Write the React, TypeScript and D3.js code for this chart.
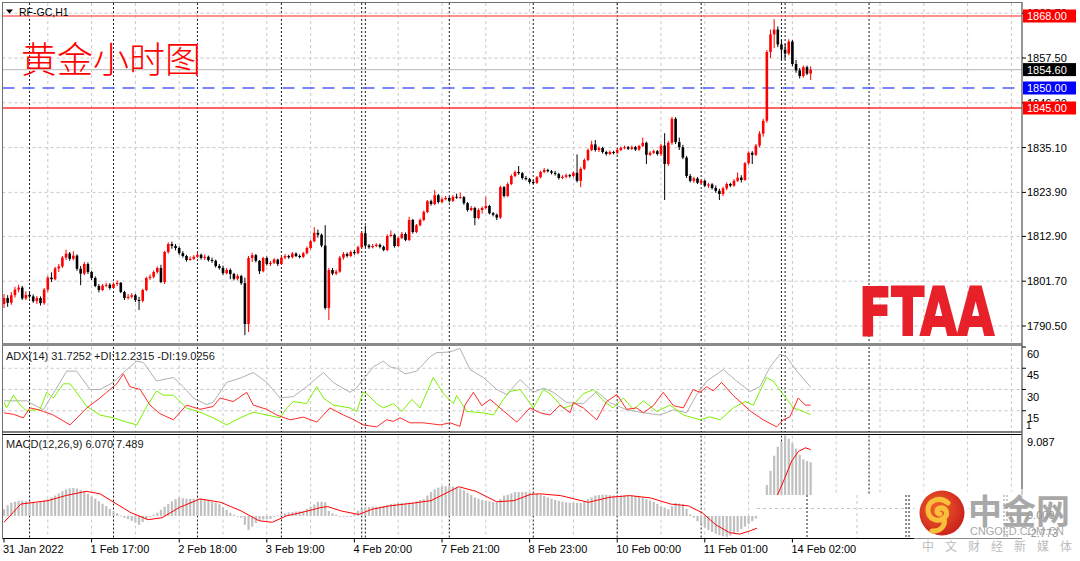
import React, { useEffect } from 'react';
import * as d3 from 'd3';

// ---------------- DATA ----------------
// Hourly candles [open, high, low, close]
const candles: [number, number, number, number][] = [
  [1796.0,1798.5,1795.0,1797.5],[1797.5,1798.2,1795.3,1796.3],[1796.3,1799.0,1795.8,1798.2],[1798.2,1800.3,1797.6,1799.6],
  [1799.6,1800.8,1798.9,1800.1],[1800.1,1800.5,1797.0,1797.4],[1797.4,1799.2,1797.0,1798.3],[1798.3,1799.0,1797.4,1797.9],
  [1797.9,1798.4,1796.3,1796.7],[1796.7,1798.0,1796.0,1797.5],[1797.5,1797.9,1795.6,1796.2],[1796.2,1800.0,1795.8,1799.6],
  [1799.6,1803.0,1799.0,1802.6],[1802.6,1803.9,1801.5,1802.2],[1802.2,1805.3,1801.9,1804.9],[1804.9,1806.0,1804.0,1805.4],
  [1805.4,1808.0,1805.0,1807.6],[1807.6,1809.6,1807.0,1808.6],[1808.6,1809.0,1806.8,1807.3],[1807.3,1809.2,1806.9,1808.1],
  [1808.1,1808.4,1804.3,1804.8],[1804.8,1805.5,1800.7,1803.6],[1803.6,1806.5,1803.2,1806.0],[1806.0,1806.4,1803.5,1804.0],
  [1804.0,1804.3,1802.0,1802.5],[1802.5,1802.9,1800.2,1800.5],[1800.5,1801.0,1798.9,1799.5],[1799.5,1801.0,1799.2,1800.6],
  [1800.6,1801.3,1800.2,1800.8],[1800.8,1801.2,1799.6,1800.0],[1800.0,1801.4,1799.8,1801.0],[1801.0,1801.9,1800.5,1801.3],
  [1801.3,1801.5,1798.7,1799.0],[1799.0,1799.3,1797.0,1797.5],[1797.5,1798.5,1797.1,1797.8],[1797.8,1798.7,1797.4,1798.2],
  [1798.2,1798.5,1796.5,1797.0],[1797.0,1797.8,1794.5,1796.8],[1796.8,1799.8,1796.4,1799.5],[1799.5,1802.8,1799.2,1802.5],
  [1802.5,1803.4,1802.0,1802.8],[1802.8,1804.4,1802.4,1804.0],[1804.0,1805.4,1803.6,1805.0],[1805.0,1805.8,1801.2,1801.5],
  [1801.5,1809.3,1801.0,1809.0],[1809.0,1811.4,1808.6,1811.0],[1811.0,1811.6,1809.8,1810.5],[1810.5,1811.0,1809.4,1810.0],
  [1810.0,1810.4,1808.3,1808.7],[1808.7,1809.2,1807.6,1808.0],[1808.0,1808.3,1806.6,1807.0],[1807.0,1807.9,1806.8,1807.3],
  [1807.3,1808.2,1807.0,1807.8],[1807.8,1808.8,1807.5,1808.3],[1808.3,1808.6,1807.1,1807.5],[1807.5,1808.4,1807.0,1807.8],
  [1807.8,1808.1,1806.6,1807.0],[1807.0,1807.6,1806.3,1806.8],[1806.8,1807.1,1805.1,1805.5],[1805.5,1806.0,1804.6,1805.0],
  [1805.0,1805.6,1803.3,1803.7],[1803.7,1805.0,1803.4,1804.5],[1804.5,1804.9,1802.2,1803.5],[1803.5,1803.8,1801.9,1802.3],
  [1802.3,1803.5,1801.9,1803.0],[1803.0,1803.3,1800.8,1801.2],[1801.2,1802.6,1788.2,1791.0],[1791.0,1808.0,1789.0,1807.5],
  [1807.5,1808.8,1806.5,1808.2],[1808.2,1808.5,1806.4,1806.8],[1806.8,1807.0,1803.5,1804.2],[1804.2,1807.8,1803.9,1807.5],
  [1807.5,1807.9,1805.6,1806.0],[1806.0,1806.8,1805.5,1806.3],[1806.3,1807.5,1806.0,1807.1],[1807.1,1807.3,1805.5,1806.0],
  [1806.0,1807.9,1805.8,1807.6],[1807.6,1808.5,1807.2,1808.0],[1808.0,1808.3,1807.3,1807.7],[1807.7,1809.0,1807.4,1808.6],
  [1808.6,1808.9,1807.7,1808.0],[1808.0,1808.4,1807.4,1807.8],[1807.8,1809.0,1807.5,1808.7],[1808.7,1810.4,1808.4,1810.0],
  [1810.0,1812.0,1809.6,1811.7],[1811.7,1815.2,1811.4,1813.8],[1813.8,1814.6,1812.6,1813.3],[1813.3,1813.6,1810.2,1810.6],
  [1810.6,1815.7,1794.6,1795.0],[1795.0,1805.0,1792.0,1804.5],[1804.5,1805.0,1803.2,1803.6],[1803.6,1804.6,1803.2,1804.1],
  [1804.1,1808.0,1803.8,1807.6],[1807.6,1809.0,1807.1,1808.5],[1808.5,1808.9,1807.6,1808.0],[1808.0,1809.4,1807.7,1809.0],
  [1809.0,1809.5,1808.3,1808.7],[1808.7,1810.6,1808.4,1810.2],[1810.2,1814.0,1809.9,1813.7],[1813.7,1815.6,1810.2,1810.6],
  [1810.6,1811.0,1809.8,1810.2],[1810.2,1811.0,1809.9,1810.5],[1810.5,1811.2,1810.2,1810.8],[1810.8,1811.1,1809.9,1810.3],
  [1810.3,1810.6,1809.2,1809.5],[1809.5,1813.4,1809.2,1813.0],[1813.0,1814.4,1812.7,1813.3],[1813.3,1813.6,1810.1,1810.5],
  [1810.5,1812.9,1810.2,1812.5],[1812.5,1814.0,1812.2,1813.5],[1813.5,1813.9,1811.7,1812.0],[1812.0,1817.8,1811.7,1817.0],
  [1817.0,1817.3,1813.6,1814.0],[1814.0,1816.0,1813.7,1815.7],[1815.7,1817.4,1815.4,1817.0],[1817.0,1819.4,1816.7,1819.0],
  [1819.0,1822.0,1818.7,1821.7],[1821.7,1822.1,1820.6,1821.0],[1821.0,1824.5,1820.7,1823.2],[1823.2,1823.5,1821.1,1821.5],
  [1821.5,1822.6,1821.2,1822.2],[1822.2,1823.0,1821.9,1822.5],[1822.5,1822.8,1821.4,1821.8],[1821.8,1823.2,1821.5,1822.8],
  [1822.8,1823.6,1822.3,1822.6],[1822.6,1823.8,1822.3,1822.7],[1822.7,1823.0,1820.8,1821.2],[1821.2,1821.5,1819.1,1819.5],
  [1819.5,1820.5,1819.2,1820.0],[1820.0,1820.3,1815.7,1817.5],[1817.5,1819.9,1817.2,1819.5],[1819.5,1820.4,1818.6,1820.0],
  [1820.0,1822.8,1819.7,1820.5],[1820.5,1820.8,1818.4,1818.7],[1818.7,1819.0,1817.9,1818.3],[1818.3,1818.6,1817.0,1817.6],
  [1817.6,1825.6,1817.3,1825.2],[1825.2,1825.5,1822.6,1823.0],[1823.0,1826.4,1822.7,1826.0],[1826.0,1828.4,1825.7,1828.0],
  [1828.0,1829.4,1827.7,1829.0],[1829.0,1830.5,1828.3,1828.7],[1828.7,1829.0,1827.1,1827.5],[1827.5,1828.0,1826.9,1827.2],
  [1827.2,1827.5,1826.1,1826.5],[1826.5,1827.0,1826.0,1826.3],[1826.3,1828.0,1826.0,1827.7],[1827.7,1829.3,1827.4,1829.0],
  [1829.0,1830.0,1828.7,1829.5],[1829.5,1829.8,1828.9,1829.2],[1829.2,1829.5,1828.4,1828.8],[1828.8,1829.3,1828.1,1828.5],
  [1828.5,1828.8,1827.1,1827.5],[1827.5,1828.2,1827.2,1827.8],[1827.8,1828.6,1827.4,1828.2],[1828.2,1828.5,1827.6,1828.0],
  [1828.0,1829.1,1827.7,1828.8],[1828.8,1833.4,1826.4,1826.8],[1826.8,1830.2,1825.2,1829.8],[1829.8,1832.4,1829.5,1832.0],
  [1832.0,1834.9,1831.7,1834.5],[1834.5,1836.8,1834.2,1835.9],[1835.9,1837.0,1834.1,1834.5],[1834.5,1835.4,1834.0,1835.0],
  [1835.0,1835.3,1833.6,1834.0],[1834.0,1834.3,1833.1,1833.5],[1833.5,1834.4,1833.2,1834.0],[1834.0,1834.3,1833.4,1833.8],
  [1833.8,1834.9,1833.5,1834.5],[1834.5,1835.4,1834.2,1835.0],[1835.0,1835.6,1834.7,1835.2],[1835.2,1835.5,1834.5,1834.8],
  [1834.8,1835.6,1834.5,1835.2],[1835.2,1835.5,1834.3,1834.6],[1834.6,1835.8,1834.3,1835.5],[1835.5,1837.6,1835.2,1836.3],
  [1836.3,1836.6,1831.0,1833.3],[1833.3,1834.2,1833.0,1833.8],[1833.8,1834.6,1833.5,1834.2],[1834.2,1834.5,1833.1,1833.5],
  [1833.5,1836.0,1833.0,1835.6],[1835.6,1838.7,1822.0,1831.0],[1831.0,1836.8,1830.5,1836.3],[1836.3,1842.8,1835.8,1842.3],
  [1842.3,1842.7,1836.0,1836.5],[1836.5,1837.6,1834.5,1835.2],[1835.2,1835.8,1832.2,1832.6],[1832.6,1833.0,1827.5,1828.0],
  [1828.0,1828.5,1826.4,1826.8],[1826.8,1827.8,1826.3,1827.4],[1827.4,1827.7,1826.0,1826.3],[1826.3,1827.2,1825.9,1826.8],
  [1826.8,1827.1,1825.2,1825.6],[1825.6,1826.3,1825.0,1825.9],[1825.9,1826.2,1824.6,1825.0],[1825.0,1825.6,1823.8,1824.3],
  [1824.3,1824.8,1822.0,1823.5],[1823.5,1825.3,1823.0,1824.9],[1824.9,1826.4,1824.5,1826.0],[1826.0,1826.3,1825.2,1825.6],
  [1825.6,1827.2,1825.3,1826.8],[1826.8,1828.9,1826.5,1827.6],[1827.6,1828.2,1826.4,1827.0],[1827.0,1831.5,1826.8,1831.2],
  [1831.2,1834.2,1830.8,1833.8],[1833.8,1834.2,1831.0,1833.3],[1833.3,1836.0,1833.0,1835.6],[1835.6,1839.2,1835.2,1838.6],
  [1838.6,1842.3,1837.8,1841.8],[1841.8,1859.5,1841.3,1859.0],[1859.0,1864.6,1857.5,1863.4],[1863.4,1867.2,1860.0,1864.6],
  [1864.6,1865.4,1860.2,1860.9],[1860.9,1862.0,1857.0,1859.6],[1859.6,1861.0,1857.2,1858.6],[1858.6,1862.2,1858.2,1861.6],
  [1861.6,1862.0,1855.4,1856.0],[1856.0,1857.0,1853.8,1854.4],[1854.4,1855.0,1852.4,1853.0],[1853.0,1855.6,1852.6,1855.2],
  [1855.2,1855.6,1853.2,1853.6],[1853.6,1855.4,1852.0,1854.6],
];

const priceTicks = [1868.7, 1857.5, 1846.3, 1835.1, 1823.9, 1812.9, 1801.7, 1790.5];
const levelHigh = 1868.0;
const levelBid = 1854.6;
const levelMid = 1850.0;
const levelLow = 1845.0;

const timeLabelBars = [0, 24, 48, 72, 96, 120, 144, 168, 192, 216];
const timeLabels = ['31 Jan 2022', '1 Feb 17:00', '2 Feb 18:00', '3 Feb 19:00', '4 Feb 20:00',
  '7 Feb 21:00', '8 Feb 23:00', '10 Feb 00:00', '11 Feb 01:00', '14 Feb 02:00'];
const daySeparatorBars = [7, 30, 53, 76, 98, 99, 122, 145, 168, 191, 213, 214, 237];
const gridBars = [12, 24, 36, 48, 60, 72, 84, 96, 108, 120, 132, 144, 156, 168, 180, 192, 204, 216, 228, 240, 252, 264, 276];

// ADX(14): [bar, value]
const adxMain: [number, number][] = [
  [0,22],[6.2,22],[10.8,15.7],[17.2,43],[19.9,43],[23.6,30],[26.3,30],[29.9,35],[33.6,44],[36.4,50],[38.2,49],[41.8,36],
  [46.4,38.5],[49.1,32],[51.9,24],[55.5,19.3],[57.3,21],[61,35],[64.7,38],[68.3,42],[72,35],[75.6,24],[79.3,25],[82.9,32],
  [87.5,42],[90.2,35],[94.8,28],[96.5,31],[98.4,37],[101.2,46],[103.9,50],[105.8,46],[107.6,45],[109.9,41],[113.1,43],
  [116.7,53],[118.5,56],[122.2,56.5],[124.9,59],[127.7,44],[131.3,38.5],[135,30],[137.7,26.5],[141.4,37],[145,28],
  [147.8,31],[150.5,28],[154.2,20.7],[158.7,20],[162.4,28.6],[166,20.7],[170.6,15.7],[175.2,13.6],[179.7,12],[183.4,15.7],
  [187,13.6],[189.8,26.5],[192.5,36],[197.1,44],[200.7,36],[204.4,28.6],[207.1,32],[209.9,46],[212.6,55],[214.4,53],
  [217.2,43],[221,31.7],
];
const adxPlus: [number, number][] = [
  [0,21],[0.7,17],[2.6,26],[4.4,19],[6.2,15],[9.9,16],[11.7,28],[13.5,24],[16.3,34],[18.1,34],[22.7,18],[26.3,12],
  [29.9,10],[33.6,7],[36.4,5],[39.1,18],[41.8,29],[43.6,26],[46.4,26],[50,17],[53.7,14],[57.3,10],[61,5],[64.7,10],
  [68.3,14],[72,12],[75.6,10],[77.5,17],[79.3,21.5],[82.9,20],[85.7,32],[87.5,24],[90.2,19],[94.8,17],[96.6,14.5],
  [98.4,28],[99.4,27],[102.1,20],[103.9,17],[106.7,20],[109,14.5],[111.7,23],[114,17],[117.6,38.5],[120.4,27],[123.1,20],
  [124,25.7],[126.8,14.5],[131.3,13.5],[134.1,12],[136.8,23],[138.6,28.6],[141.4,30],[145,17],[147.8,30],[149.6,27],
  [153.2,17],[155.9,19],[158.7,27],[161.5,30],[164.2,22],[166.9,17],[169.7,24],[172.4,16],[175.2,22],[178.8,14.5],
  [182.5,19],[186.1,12],[190.7,8.6],[193.4,10.7],[196.2,8.6],[199.8,17],[203,21.5],[205.3,19],[208.9,38.5],[210.7,36],
  [213.5,26.5],[216.3,17],[219,14.5],[221,12.2],
];
const adxMinus: [number, number][] = [
  [0,13.5],[2.6,12.5],[5.3,10],[7.1,17],[9,16],[10.8,14.5],[13.5,12],[18.1,5],[20.8,12],[22.7,17],[26.3,24],[28.1,28],
  [30.9,34],[32.7,41],[34.5,32],[37.3,30],[40,19],[42.7,13],[46.4,8.6],[50,19],[53.7,16],[57.3,18],[59.2,24],[62.8,21.5],
  [66.5,28],[68.3,19],[72,16],[74.7,12],[78.4,8.6],[82,10.5],[85.7,7],[89.3,17],[93,12],[95.9,8.6],[98.4,5],[102.1,3.6],
  [104.8,8.6],[106.7,7.5],[108.5,10],[111.2,6.5],[114.9,6.5],[119.5,5],[122.2,6.5],[124.9,4],[126.3,19],[128.6,28],
  [130.9,18.6],[133.2,23],[136.8,15],[140.5,7],[144.1,17],[146.8,13.6],[149.6,12],[152.3,19],[155.1,13.6],[156,20.7],
  [158.7,17],[162.4,8.6],[165.1,21.5],[167.9,26.5],[170.6,16],[173.3,17],[175.2,13.6],[177.9,18.6],[180.6,28],[183.4,18.6],
  [186.1,17],[188.8,30],[190.7,28],[192.5,32],[194.3,29],[196.6,35],[199.8,25.7],[204.4,15],[208,8.6],[211.7,3.6],
  [213.5,8.6],[215.3,10.7],[217.6,24],[219.5,19],[221,19],
];
const adxLevels = [60, 45, 30, 15];

// MACD(12,26,9) histogram per bar, signal line [bar, value]
const macdHist: number[] = [
  0.76,1.2,1.5,1.6,1.7,1.73,1.7,1.6,1.5,1.46,1.6,1.73,1.9,2.1,2.3,2.55,2.8,3.0,3.12,3.17,
  3.1,2.95,2.8,2.5,2.2,1.95,1.65,1.38,1.1,0.8,0.56,0.3,0.05,-0.2,-0.35,-0.55,-0.75,-1.0,-0.7,-0.4,
  -0.1,0.15,0.36,0.7,1.05,1.34,1.65,1.9,2.1,2.0,1.95,1.92,1.95,2.0,1.95,1.85,1.75,1.6,1.5,1.34,
  1.0,0.7,0.36,0.15,0.0,-0.2,-1.0,-1.58,-1.2,-0.8,-0.5,-0.4,-0.35,-0.34,-0.1,0.05,0.17,0.3,0.4,0.44,
  0.5,0.53,0.56,0.8,1.06,1.3,1.6,1.6,1.54,0.56,0.3,0.15,0.0,0.0,0.0,0.0,0.3,0.6,0.83,0.95,
  1.0,1.06,1.06,1.06,1.15,1.25,1.34,1.4,1.44,1.46,1.5,1.52,1.54,1.65,1.8,1.92,2.3,2.7,3.0,3.2,
  3.35,3.37,3.35,3.32,3.25,3.1,2.9,2.6,2.35,2.1,1.95,1.8,1.73,1.65,1.58,1.54,1.9,2.3,2.4,2.55,
  2.7,2.7,2.7,2.7,2.65,2.6,2.5,2.4,2.25,2.1,1.95,1.8,1.7,1.6,1.54,1.5,1.48,1.46,1.46,1.6,
  1.9,2.1,2.3,2.35,2.4,2.4,2.35,2.3,2.3,2.3,2.3,2.3,2.3,2.25,2.2,2.1,1.9,1.75,1.6,1.35,
  1.1,0.95,0.76,1.1,1.46,1.4,1.34,0.8,0.17,-0.2,-0.6,-0.95,-1.3,-1.58,-1.8,-2.0,-2.17,-2.3,-2.36,-2.2,
  -2.0,-1.8,-1.5,-1.2,-0.9,-0.6,-0.3,0.4,1.6,3.5,5.1,6.8,7.8,8.4,9.087,8.7,8.2,7.6,6.9,6.4,
  6.2,6.07,
];
const macdSignal: [number, number][] = [
  [0,-0.72],[4.6,1.34],[12.1,1.73],[16.9,2.3],[22.5,2.78],[26.3,2.5],[30.1,1.54],[34.8,0.36],[39.5,-0.42],[43.3,-0.2],
  [48,0.95],[53.7,1.92],[59.4,1.54],[65,0.56],[69.8,-0.53],[73.5,-0.72],[77.3,0],[82,0.44],[86.8,0.95],[88.7,1.06],
  [92.4,0.56],[97.2,0.17],[100.9,0.76],[105.7,1.14],[112.3,1.46],[117,1.73],[124.6,3.3],[129.3,2.78],[135,1.6],
  [139.7,1.73],[144.4,2.45],[146.8,2.5],[152.5,2.3],[160.1,1.54],[165.8,2.1],[171.4,2.3],[177.1,2.04],[182.7,1.34],
  [187.5,1.14],[191.3,0.36],[195,-1.0],[198.8,-1.89],[201.6,-2.05],[204.5,-1.66],[206.3,-1.39],[208,-0.9],[209,-0.3],
  [210,0.5],[211,1.4],[212,2.45],[213.9,4.26],[215.8,6.2],[217.7,7.3],[219.6,7.7],[221,7.489],
];
const macdMax = 9.087;
const macdMin = -2.773;

// ---------------- LAYOUT ----------------
const LEFT = 2.5;
const RIGHT = 1022;
const MAIN_TOP = 3, MAIN_BOTTOM = 343;
const ADX_TOP = 347, ADX_BOTTOM = 432;
const MACD_TOP = 435.5, MACD_BOTTOM = 538.5;
const PATCH_X = 757, PATCH_Y = 495;

const FONT = "'Liberation Sans', Arial, 'DejaVu Sans', sans-serif";
const CJK = "'Noto Sans CJK SC', 'Noto Sans CJK JP', sans-serif";

export default function App() {
  useEffect(() => {
    document.body.style.margin = '0';
  }, []);

  const x = d3.scaleLinear().domain([0, candles.length - 1]).range([4, 4 + (candles.length - 1) * 3.65]);
  const y = d3.scaleLinear().domain([1790.5, 1868]).range([326, 16]);
  const yAdx = d3.scaleLinear().domain([0, 60]).range([ADX_BOTTOM, ADX_TOP]);
  const yMacd = d3.scaleLinear().domain([macdMin, macdMax]).range([540.5, MACD_TOP]);

  const lineGen = (ys: d3.ScaleLinear<number, number>) =>
    d3.line<[number, number]>().x(d => x(d[0])).y(d => ys(d[1]));

  const bodyW = 2.6;

  const vGrid = (top: number, bottom: number, key: string) => (
    <g key={key}>
      {gridBars.map(b => (
        <line key={'g' + b} x1={x(b)} x2={x(b)} y1={top} y2={bottom} stroke="#c8c8c8" strokeDasharray="3,3" />
      ))}
      {daySeparatorBars.map(b => (
        <line key={'s' + b} x1={x(b)} x2={x(b)} y1={top} y2={bottom} stroke="#1a1a1a" strokeDasharray="2,2" />
      ))}
    </g>
  );

  return (
    <svg width={1080} height={561} style={{ position: 'absolute', left: 0, top: 0, display: 'block', background: '#fff' }}
      fontFamily={FONT}>
      <defs>
        <clipPath id="clipMain"><rect x={LEFT} y={MAIN_TOP} width={RIGHT - LEFT} height={MAIN_BOTTOM - MAIN_TOP} /></clipPath>
        <clipPath id="clipAdx"><rect x={LEFT} y={ADX_TOP} width={RIGHT - LEFT} height={ADX_BOTTOM - ADX_TOP} /></clipPath>
        <clipPath id="clipMacd"><rect x={LEFT} y={MACD_TOP} width={RIGHT - LEFT} height={MACD_BOTTOM - MACD_TOP} /></clipPath>
        <radialGradient id="logoGrad" cx="40%" cy="40%" r="65%">
          <stop offset="0%" stopColor="#f4622a" />
          <stop offset="100%" stopColor="#c8201c" />
        </radialGradient>
      </defs>
      <rect x={0} y={0} width={1080} height={561} fill="#fff" />

      {/* ---------- MAIN PANEL ---------- */}
      <g clipPath="url(#clipMain)">
        {vGrid(MAIN_TOP, MAIN_BOTTOM, 'vgMain')}
        {priceTicks.map(p => (
          <line key={p} x1={LEFT} x2={RIGHT} y1={y(p)} y2={y(p)} stroke="#c8c8c8" strokeDasharray="3,3" />
        ))}
        <line x1={LEFT} x2={RIGHT} y1={y(levelBid)} y2={y(levelBid)} stroke="#c4c4c4" strokeWidth={1.2} />
        <line x1={LEFT} x2={RIGHT} y1={y(levelHigh)} y2={y(levelHigh)} stroke="#ff6b6b" strokeWidth={1.5} />
        <line x1={LEFT} x2={RIGHT} y1={y(levelLow)} y2={y(levelLow)} stroke="#ff3030" strokeWidth={1.3} />
        <line x1={LEFT} x2={RIGHT} y1={y(levelMid)} y2={y(levelMid)} stroke="#4d5cff" strokeWidth={1.5} strokeDasharray="12,8" />
        {candles.map((c, i) => {
          const [o, h, l, cl] = c;
          const up = cl >= o;
          const col = up ? '#ff0000' : '#000000';
          const top = y(Math.max(o, cl));
          const bh = Math.max(1, y(Math.min(o, cl)) - top);
          return (
            <g key={i}>
              <line x1={x(i)} x2={x(i)} y1={y(h)} y2={y(l)} stroke={col} strokeWidth={1} />
              <rect x={x(i) - bodyW / 2} y={top} width={bodyW} height={bh} fill={col} />
            </g>
          );
        })}
      </g>

      {/* header */}
      <path d="M6,9.5 L13,9.5 L9.5,13.5 Z" fill="#000" />
      <text x={19} y={15.5} fontSize={10.5} fill="#000">RF-GC,H1</text>
      <text x={21} y={73} fontSize={36} fill="#ff0000" fontFamily={CJK} fontWeight={300}>黄金小时图</text>

      {/* FTAA logo */}
      <text x={859} y={335} fontSize={66} fontWeight={900} fill="#e8202a" stroke="#e8202a" strokeWidth={2.2}
        strokeLinejoin="miter" textLength={135} lengthAdjust="spacingAndGlyphs"
        fontFamily="'DejaVu Sans', 'Liberation Sans', sans-serif">FTAA</text>

      {/* ---------- ADX PANEL ---------- */}
      <g clipPath="url(#clipAdx)">
        {vGrid(ADX_TOP, ADX_BOTTOM, 'vgAdx')}
        {adxLevels.slice(1).map(v => (
          <line key={v} x1={LEFT} x2={RIGHT} y1={yAdx(v)} y2={yAdx(v)} stroke="#c8c8c8" strokeDasharray="3,3" />
        ))}
        <path d={lineGen(yAdx)(adxMain) || ''} fill="none" stroke="#b0b0b0" strokeWidth={1} />
        <path d={lineGen(yAdx)(adxPlus) || ''} fill="none" stroke="#7cf000" strokeWidth={1} />
        <path d={lineGen(yAdx)(adxMinus) || ''} fill="none" stroke="#ff2a2a" strokeWidth={1} />
      </g>
      <text x={6} y={360} fontSize={11} fill="#1a1a1a">ADX(14) 31.7252 +DI:12.2315 -DI:19.0256</text>

      {/* ---------- MACD PANEL ---------- */}
      <g clipPath="url(#clipMacd)">
        {vGrid(MACD_TOP, MACD_BOTTOM, 'vgMacd')}
        {macdHist.map((v, i) => {
          const y0 = yMacd(0);
          const y1 = yMacd(v);
          return <rect key={i} x={x(i) - 1.1} y={Math.min(y0, y1)} width={2.2} height={Math.max(0.8, Math.abs(y1 - y0))} fill="#c0c0c0" />;
        })}
        <path d={lineGen(yMacd)(macdSignal) || ''} fill="none" stroke="#ff0000" strokeWidth={1} />
        {/* pasted patch region */}
        <rect x={PATCH_X} y={PATCH_Y} width={RIGHT - PATCH_X} height={MACD_BOTTOM - PATCH_Y} fill="#fff" />
        <line x1={PATCH_X} x2={RIGHT} y1={508.5} y2={508.5} stroke="#c8c8c8" strokeDasharray="3,3" />
        {[807, 906, 909, 1004, 1007].map(px => (
          <line key={px} x1={px} x2={px} y1={PATCH_Y} y2={MACD_BOTTOM} stroke="#1a1a1a" strokeDasharray="2,2" />
        ))}
        <line x1={857} x2={857} y1={PATCH_Y} y2={MACD_BOTTOM} stroke="#c8c8c8" strokeDasharray="3,3" />
      </g>
      <text x={6} y={448} fontSize={11} fill="#1a1a1a">MACD(12,26,9) 6.070 7.489</text>

      {/* ---------- FRAMES ---------- */}
      <line x1={LEFT} x2={RIGHT} y1={2.5} y2={2.5} stroke="#707070" />
      <line x1={LEFT} x2={LEFT} y1={2} y2={MACD_BOTTOM} stroke="#707070" />
      <rect x={LEFT} y={343} width={RIGHT - LEFT} height={3} fill="#8a8a8a" />
      <line x1={LEFT} x2={RIGHT} y1={ADX_BOTTOM} y2={ADX_BOTTOM} stroke="#000" />
      <line x1={LEFT} x2={RIGHT} y1={434.5} y2={434.5} stroke="#000" />
      <line x1={LEFT} x2={RIGHT} y1={MACD_BOTTOM} y2={MACD_BOTTOM} stroke="#000" />
      <line x1={RIGHT} x2={RIGHT} y1={2} y2={PATCH_Y} stroke="#707070" strokeWidth={1.5} />

      {/* price axis */}
      {priceTicks.map(p => (
        <g key={p}>
          <line x1={RIGHT} x2={RIGHT + 4} y1={y(p)} y2={y(p)} stroke="#000" />
          <text x={1027} y={y(p) + 4} fontSize={11} fill="#000">{p.toFixed(2)}</text>
        </g>
      ))}
      {[
        { v: levelHigh, bg: '#ff0000' },
        { v: levelBid, bg: '#000000' },
        { v: levelMid, bg: '#0000ff' },
        { v: levelLow, bg: '#ff0000' },
      ].map(d => (
        <g key={d.v}>
          <rect x={1023} y={y(d.v) - 6.5} width={53} height={13} fill={d.bg} />
          <text x={1027} y={y(d.v) + 4} fontSize={11} fill="#fff">{d.v.toFixed(2)}</text>
        </g>
      ))}

      {/* ADX axis */}
      {adxLevels.map(v => (
        <g key={v}>
          <line x1={RIGHT} x2={RIGHT + 4} y1={yAdx(v)} y2={yAdx(v)} stroke="#000" />
          <text x={1027} y={yAdx(v) + 11} fontSize={11} fill="#000">{v}</text>
        </g>
      ))}
      <text x={1026} y={429} fontSize={10} fill="#000">1</text>

      {/* MACD axis */}
      <text x={1027} y={446} fontSize={11} fill="#000">{macdMax.toFixed(3)}</text>
      <text x={1027} y={519} fontSize={11} fill="#000">0.000</text>
      <text x={1027} y={537} fontSize={11} fill="#000">{macdMin.toFixed(3)}</text>

      {/* time axis */}
      {timeLabelBars.map((b, i) => (
        <g key={b}>
          <line x1={x(b)} x2={x(b)} y1={MACD_BOTTOM} y2={MACD_BOTTOM + 4} stroke="#000" />
          <text x={x(b) - 1} y={553} fontSize={11} fill="#000">{timeLabels[i]}</text>
        </g>
      ))}

      {/* watermark */}
      <g>
        <rect x={914} y={489} width={162} height={68} fill="#fff" opacity={0.55} />
        <circle cx={942} cy={513} r={22.5} fill="url(#logoGrad)" />
        <path d="M948,503 C940,496 928,500 928,510 C928,519 938,523 944,518 C949,514 946,507 940,508 C936,509 936,514 940,514
                 M944,518 C946,526 940,532 932,531"
          fill="none" stroke="#f8c03a" strokeWidth={5} strokeLinecap="round" />
        <text x={968} y={524} fontSize={34} fontWeight="bold" fill="#9a9a9a" opacity={0.85} fontFamily={CJK}>中金网</text>
        <text x={970} y={535} fontSize={10} fill="#a8a8a8" textLength={94} lengthAdjust="spacingAndGlyphs">CNGOLD.COM.CN</text>
        <text x={922} y={551} fontSize={12} fill="#bdbdbd" textLength={150} lengthAdjust="spacing" fontFamily={CJK}>中文财经新媒体</text>
      </g>
    </svg>
  );
}
